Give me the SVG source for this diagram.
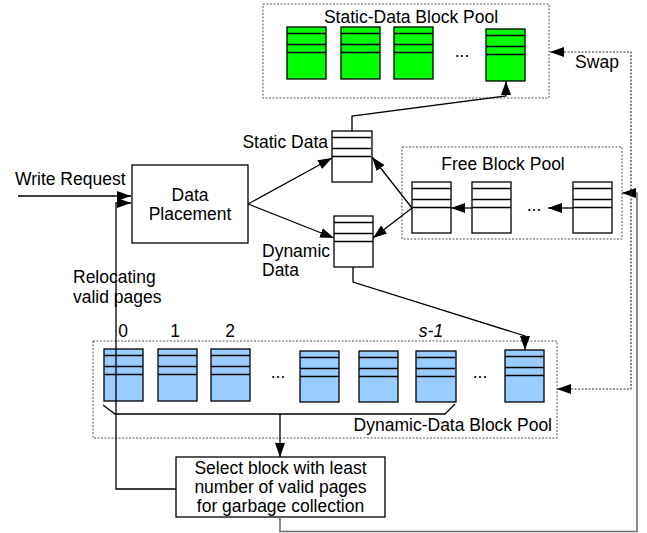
<svg xmlns="http://www.w3.org/2000/svg" width="647" height="533" viewBox="0 0 647 533">
<style>
text{font-family:"Liberation Sans",Arial,sans-serif;font-size:17.5px;fill:#000}
.mid{text-anchor:middle}
.end{text-anchor:end}
.pool{fill:none;stroke:#555;stroke-width:1;stroke-dasharray:2,1.5}
.box{fill:#fff;stroke:#000;stroke-width:1.3}
.blk{stroke:#000;stroke-width:1.3}
.w{fill:#fff}.g{fill:#00ff00}.b{fill:#99ccff}
.ln{fill:none;stroke:#000;stroke-width:1.3}
.gray{fill:none;stroke:#6e6e6e;stroke-width:1.6}
.dot{fill:none;stroke:#333;stroke-width:1.2;stroke-dasharray:2,1.5}
</style>
<defs>
<marker id="ah" markerUnits="userSpaceOnUse" markerWidth="15" markerHeight="11" refX="14" refY="5" orient="auto-start-reverse" viewBox="0 0 15 11">
<path d="M0,0 L14,5 L0,10 z" fill="#000"/>
</marker>
<g id="lines">
<path d="M0,6.5 H39 M0,17.5 H39 M0,25.5 H39" stroke="#000" stroke-width="1.3" fill="none"/>
</g>
</defs>

<!-- Static-Data Block Pool -->
<g id="static-pool">
<rect class="pool" x="263" y="4" width="286" height="94"/>
<text class="mid" x="411" y="23">Static-Data Block Pool</text>
<g id="sblk1"><rect class="blk g" x="287" y="27" width="39" height="52"/><use href="#lines" x="287" y="27"/></g>
<g id="sblk2"><rect class="blk g" x="341" y="27" width="39" height="52"/><use href="#lines" x="341" y="27"/></g>
<g id="sblk3"><rect class="blk g" x="394" y="27" width="39" height="52"/><use href="#lines" x="394" y="27"/></g>
<text class="mid" x="462" y="57">...</text>
<g id="sblk4"><rect class="blk g" x="486" y="29" width="39" height="52"/><use href="#lines" x="486" y="29"/></g>
</g>

<!-- Free Block Pool -->
<g id="free-pool">
<rect class="pool" x="402" y="147" width="220" height="92"/>
<text class="mid" x="503" y="170">Free Block Pool</text>
<g id="fblk1"><rect class="blk w" x="412" y="182" width="39" height="51"/><use href="#lines" x="412" y="182"/></g>
<g id="fblk2"><rect class="blk w" x="472" y="182" width="39" height="51"/><use href="#lines" x="472" y="182"/></g>
<text class="mid" x="534" y="211">...</text>
<g id="fblk3"><rect class="blk w" x="573" y="182" width="39" height="51"/><use href="#lines" x="573" y="182"/></g>
</g>

<!-- Dynamic-Data Block Pool -->
<g id="dynamic-pool">
<rect class="pool" x="93" y="341" width="464" height="97"/>
<text class="end" x="552" y="431">Dynamic-Data Block Pool</text>
<text class="mid" x="123" y="337">0</text>
<text class="mid" x="175" y="337">1</text>
<text class="mid" x="230" y="337">2</text>
<text class="mid" x="431" y="337" font-style="italic">s-1</text>
<g id="dblk0"><rect class="blk b" x="104" y="349" width="39" height="52"/><use href="#lines" x="104" y="349"/></g>
<g id="dblk1"><rect class="blk b" x="158" y="349" width="39" height="52"/><use href="#lines" x="158" y="349"/></g>
<g id="dblk2"><rect class="blk b" x="211" y="349" width="39" height="52"/><use href="#lines" x="211" y="349"/></g>
<text class="mid" x="278" y="378">...</text>
<g id="dblk3"><rect class="blk b" x="300" y="351" width="39" height="51"/><use href="#lines" x="300" y="351"/></g>
<g id="dblk4"><rect class="blk b" x="359" y="351" width="39" height="51"/><use href="#lines" x="359" y="351"/></g>
<g id="dblk5"><rect class="blk b" x="416" y="351" width="40" height="51"/><use href="#lines" x="416" y="351"/></g>
<text class="mid" x="480" y="378">...</text>
<g id="dblk6"><rect class="blk b" x="505" y="350" width="39" height="52"/><use href="#lines" x="505" y="350"/></g>
</g>

<!-- Data Placement -->
<g id="data-placement">
<rect class="box" x="132" y="165" width="116" height="78"/>
<text class="mid" x="190" y="201">Data<tspan x="190" dy="19">Placement</tspan></text>
</g>

<!-- Static Data block -->
<g id="static-data">
<rect class="blk w" x="332" y="131" width="40" height="51"/><use href="#lines" x="332" y="131"/>
<text class="end" x="328" y="148">Static Data</text>
</g>

<!-- Dynamic Data block -->
<g id="dynamic-data">
<rect class="blk w" x="334" y="216" width="39" height="51"/><use href="#lines" x="334" y="216"/>
<text x="262" y="257">Dynamic<tspan x="262" dy="18.5">Data</tspan></text>
</g>

<!-- GC box -->
<g id="gc-select">
<rect class="box" x="176" y="457" width="209" height="60"/>
<text class="mid" x="280.5" y="474">Select block with least<tspan x="280.5" dy="19">number of valid pages</tspan><tspan x="280.5" dy="19">for garbage collection</tspan></text>
</g>

<!-- Free text labels -->
<g id="labels">
<text x="15" y="185">Write Request</text>
<text x="73" y="283">Relocating<tspan x="73" dy="20">valid pages</tspan></text>
<text class="mid" x="597" y="68">Swap</text>
</g>

<!-- Connectors -->
<g id="connectors">
<path class="ln" d="M18,196 H131" marker-end="url(#ah)"/>
<path class="ln" d="M176,489 H116 V203 H131" marker-end="url(#ah)"/>
<path class="ln" d="M248,204 L332,158" marker-end="url(#ah)"/>
<path class="ln" d="M248,204 L334,238" marker-end="url(#ah)"/>
<path class="ln" d="M412,208 L372,157" marker-end="url(#ah)"/>
<path class="ln" d="M412,208 L373,238" marker-end="url(#ah)"/>
<path class="ln" d="M472,208 H451" marker-end="url(#ah)"/>
<path class="ln" d="M573,208 H548" marker-end="url(#ah)"/>
<path class="ln" d="M352,131 V116 L506,96 V81" marker-end="url(#ah)"/>
<path class="ln" d="M353,267 V282 L525,336 V350" marker-end="url(#ah)"/>
<path class="ln" d="M103,405 L115,414 H445 L455,404"/>
<path class="ln" d="M280,414 V457" marker-end="url(#ah)"/>
<path class="gray" d="M280,517 V531.5 H637 V193 H622" marker-end="url(#ah)"/>
<path class="dot" d="M550,52 H631 V389 H557" marker-start="url(#ah)" marker-end="url(#ah)"/>
</g>
</svg>
